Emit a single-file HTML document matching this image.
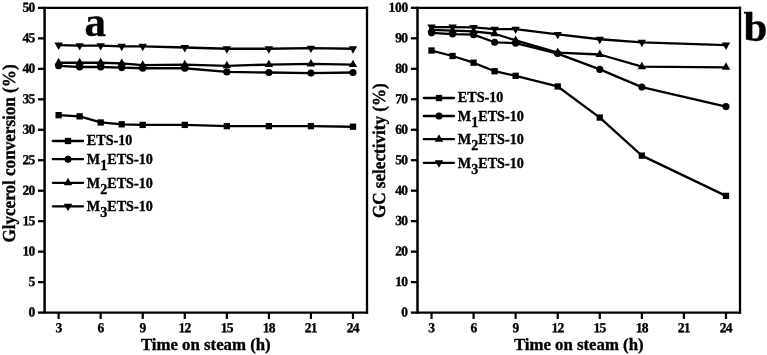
<!DOCTYPE html>
<html><head><meta charset="utf-8"><title>Figure</title>
<style>html,body{margin:0;padding:0;background:#fff}svg{display:block}</style>
</head><body>
<svg width="767" height="355" viewBox="0 0 767 355">
<style>
text{font-family:"Liberation Serif","Times New Roman",serif;font-weight:bold;fill:#000;stroke:#000;stroke-width:0.35px}
.tk{text-rendering:geometricPrecision;font-size:13.8px;letter-spacing:-0.8px}
.ti{font-size:16.8px}
.yt{font-size:17.1px;text-rendering:geometricPrecision}
.lg{font-size:14.15px}
.big{font-size:43px}
</style>
<rect width="767" height="355" fill="#fff"/>
<line x1="44.60" x2="44.60" y1="6.80" y2="313.75" stroke="#000" stroke-width="2.5"/>
<line x1="367.00" x2="367.00" y1="6.80" y2="313.75" stroke="#000" stroke-width="2.3"/>
<line x1="44.60" x2="368.07" y1="7.90" y2="7.90" stroke="#000" stroke-width="2.2"/>
<line x1="44.60" x2="368.07" y1="312.60" y2="312.60" stroke="#000" stroke-width="2.3"/>
<line x1="38.00" x2="44.60" y1="312.60" y2="312.60" stroke="#000" stroke-width="2.3"/>
<text transform="translate(34.40,316.55) rotate(0.05) scale(0.98,1)" text-anchor="end" class="tk">0</text>
<line x1="38.00" x2="44.60" y1="282.13" y2="282.13" stroke="#000" stroke-width="2.3"/>
<text transform="translate(34.40,286.08) rotate(0.05) scale(0.98,1)" text-anchor="end" class="tk">5</text>
<line x1="38.00" x2="44.60" y1="251.66" y2="251.66" stroke="#000" stroke-width="2.3"/>
<text transform="translate(34.40,255.61) rotate(0.05) scale(0.98,1)" text-anchor="end" class="tk">10</text>
<line x1="38.00" x2="44.60" y1="221.19" y2="221.19" stroke="#000" stroke-width="2.3"/>
<text transform="translate(34.40,225.14) rotate(0.05) scale(0.98,1)" text-anchor="end" class="tk">15</text>
<line x1="38.00" x2="44.60" y1="190.72" y2="190.72" stroke="#000" stroke-width="2.3"/>
<text transform="translate(34.40,194.67) rotate(0.05) scale(0.98,1)" text-anchor="end" class="tk">20</text>
<line x1="38.00" x2="44.60" y1="160.25" y2="160.25" stroke="#000" stroke-width="2.3"/>
<text transform="translate(34.40,164.20) rotate(0.05) scale(0.98,1)" text-anchor="end" class="tk">25</text>
<line x1="38.00" x2="44.60" y1="129.78" y2="129.78" stroke="#000" stroke-width="2.3"/>
<text transform="translate(34.40,133.73) rotate(0.05) scale(0.98,1)" text-anchor="end" class="tk">30</text>
<line x1="38.00" x2="44.60" y1="99.31" y2="99.31" stroke="#000" stroke-width="2.3"/>
<text transform="translate(34.40,103.26) rotate(0.05) scale(0.98,1)" text-anchor="end" class="tk">35</text>
<line x1="38.00" x2="44.60" y1="68.84" y2="68.84" stroke="#000" stroke-width="2.3"/>
<text transform="translate(34.40,72.79) rotate(0.05) scale(0.98,1)" text-anchor="end" class="tk">40</text>
<line x1="38.00" x2="44.60" y1="38.37" y2="38.37" stroke="#000" stroke-width="2.3"/>
<text transform="translate(34.40,42.32) rotate(0.05) scale(0.98,1)" text-anchor="end" class="tk">45</text>
<line x1="38.00" x2="44.60" y1="7.90" y2="7.90" stroke="#000" stroke-width="2.3"/>
<text transform="translate(34.40,11.85) rotate(0.05) scale(0.98,1)" text-anchor="end" class="tk">50</text>
<line x1="58.62" x2="58.62" y1="312.60" y2="319.00" stroke="#000" stroke-width="2.2"/>
<text transform="translate(58.42,332.15) rotate(0.05) scale(0.98,1)" text-anchor="middle" class="tk">3</text>
<line x1="100.67" x2="100.67" y1="312.60" y2="319.00" stroke="#000" stroke-width="2.2"/>
<text transform="translate(100.47,332.15) rotate(0.05) scale(0.98,1)" text-anchor="middle" class="tk">6</text>
<line x1="142.72" x2="142.72" y1="312.60" y2="319.00" stroke="#000" stroke-width="2.2"/>
<text transform="translate(142.52,332.15) rotate(0.05) scale(0.98,1)" text-anchor="middle" class="tk">9</text>
<line x1="184.77" x2="184.77" y1="312.60" y2="319.00" stroke="#000" stroke-width="2.2"/>
<text transform="translate(184.57,332.15) rotate(0.05) scale(0.98,1)" text-anchor="middle" class="tk">12</text>
<line x1="226.83" x2="226.83" y1="312.60" y2="319.00" stroke="#000" stroke-width="2.2"/>
<text transform="translate(226.63,332.15) rotate(0.05) scale(0.98,1)" text-anchor="middle" class="tk">15</text>
<line x1="268.88" x2="268.88" y1="312.60" y2="319.00" stroke="#000" stroke-width="2.2"/>
<text transform="translate(268.68,332.15) rotate(0.05) scale(0.98,1)" text-anchor="middle" class="tk">18</text>
<line x1="310.93" x2="310.93" y1="312.60" y2="319.00" stroke="#000" stroke-width="2.2"/>
<text transform="translate(310.73,332.15) rotate(0.05) scale(0.98,1)" text-anchor="middle" class="tk">21</text>
<line x1="352.98" x2="352.98" y1="312.60" y2="319.00" stroke="#000" stroke-width="2.2"/>
<text transform="translate(352.78,332.15) rotate(0.05) scale(0.98,1)" text-anchor="middle" class="tk">24</text>
<text x="205.80" y="349.60" text-anchor="middle" class="ti">Time on steam (h)</text>
<text transform="translate(14.90,153.50) rotate(-90) scale(1,1.07)" text-anchor="middle" class="yt">Glycerol conversion (%)</text>
<polyline points="58.62,115.15 79.64,116.37 100.67,122.47 121.70,124.30 142.72,124.90 184.77,124.90 226.83,126.12 268.88,126.12 310.93,126.12 352.98,126.73" fill="none" stroke="#000" stroke-width="2.3" stroke-linejoin="round"/>
<rect x="55.47" y="112.00" width="6.30" height="6.30"/>
<rect x="76.49" y="113.22" width="6.30" height="6.30"/>
<rect x="97.52" y="119.32" width="6.30" height="6.30"/>
<rect x="118.55" y="121.15" width="6.30" height="6.30"/>
<rect x="139.57" y="121.75" width="6.30" height="6.30"/>
<rect x="181.62" y="121.75" width="6.30" height="6.30"/>
<rect x="223.68" y="122.97" width="6.30" height="6.30"/>
<rect x="265.73" y="122.97" width="6.30" height="6.30"/>
<rect x="307.78" y="122.97" width="6.30" height="6.30"/>
<rect x="349.83" y="123.58" width="6.30" height="6.30"/>
<polyline points="58.62,65.79 79.64,67.01 100.67,67.01 121.70,67.62 142.72,68.23 184.77,68.23 226.83,71.89 268.88,72.50 310.93,73.11 352.98,72.50" fill="none" stroke="#000" stroke-width="2.3" stroke-linejoin="round"/>
<circle cx="58.62" cy="65.79" r="3.55"/>
<circle cx="79.64" cy="67.01" r="3.55"/>
<circle cx="100.67" cy="67.01" r="3.55"/>
<circle cx="121.70" cy="67.62" r="3.55"/>
<circle cx="142.72" cy="68.23" r="3.55"/>
<circle cx="184.77" cy="68.23" r="3.55"/>
<circle cx="226.83" cy="71.89" r="3.55"/>
<circle cx="268.88" cy="72.50" r="3.55"/>
<circle cx="310.93" cy="73.11" r="3.55"/>
<circle cx="352.98" cy="72.50" r="3.55"/>
<polyline points="58.62,62.75 79.64,62.75 100.67,62.75 121.70,63.36 142.72,65.18 184.77,64.57 226.83,65.79 268.88,64.57 310.93,63.96 352.98,64.57" fill="none" stroke="#000" stroke-width="2.3" stroke-linejoin="round"/>
<polygon points="54.42,65.21 62.82,65.21 58.62,57.81"/>
<polygon points="75.44,65.21 83.84,65.21 79.64,57.81"/>
<polygon points="96.47,65.21 104.87,65.21 100.67,57.81"/>
<polygon points="117.50,65.82 125.90,65.82 121.70,58.42"/>
<polygon points="138.52,67.65 146.92,67.65 142.72,60.25"/>
<polygon points="180.57,67.04 188.97,67.04 184.77,59.64"/>
<polygon points="222.63,68.26 231.03,68.26 226.83,60.86"/>
<polygon points="264.68,67.04 273.08,67.04 268.88,59.64"/>
<polygon points="306.73,66.43 315.13,66.43 310.93,59.03"/>
<polygon points="348.78,67.04 357.18,67.04 352.98,59.64"/>
<polyline points="58.62,45.07 79.64,45.68 100.67,45.68 121.70,46.29 142.72,46.29 184.77,47.51 226.83,48.73 268.88,48.73 310.93,48.12 352.98,48.73" fill="none" stroke="#000" stroke-width="2.3" stroke-linejoin="round"/>
<polygon points="54.42,42.61 62.82,42.61 58.62,50.01"/>
<polygon points="75.44,43.22 83.84,43.22 79.64,50.62"/>
<polygon points="96.47,43.22 104.87,43.22 100.67,50.62"/>
<polygon points="117.50,43.83 125.90,43.83 121.70,51.23"/>
<polygon points="138.52,43.83 146.92,43.83 142.72,51.23"/>
<polygon points="180.57,45.04 188.97,45.04 184.77,52.44"/>
<polygon points="222.63,46.26 231.03,46.26 226.83,53.66"/>
<polygon points="264.68,46.26 273.08,46.26 268.88,53.66"/>
<polygon points="306.73,45.65 315.13,45.65 310.93,53.05"/>
<polygon points="348.78,46.26 357.18,46.26 352.98,53.66"/>
<line x1="52.80" x2="83.00" y1="141.00" y2="141.00" stroke="#000" stroke-width="2.3" stroke-linecap="round"/>
<rect x="64.85" y="137.85" width="6.30" height="6.30"/>
<text x="86.80" y="145.40" class="lg">ETS-10</text>
<line x1="52.80" x2="83.00" y1="159.20" y2="159.20" stroke="#000" stroke-width="2.3" stroke-linecap="round"/>
<circle cx="68.00" cy="159.20" r="3.55"/>
<text x="86.80" y="164.20" class="lg">M<tspan dy="5.8">1</tspan><tspan dy="-5.8">ETS-10</tspan></text>
<line x1="52.80" x2="83.00" y1="182.80" y2="182.80" stroke="#000" stroke-width="2.3" stroke-linecap="round"/>
<polygon points="63.80,185.27 72.20,185.27 68.00,177.87"/>
<text x="86.80" y="187.80" class="lg">M<tspan dy="5.8">2</tspan><tspan dy="-5.8">ETS-10</tspan></text>
<line x1="52.80" x2="83.00" y1="206.30" y2="206.30" stroke="#000" stroke-width="2.3" stroke-linecap="round"/>
<polygon points="63.80,203.83 72.20,203.83 68.00,211.23"/>
<text x="86.80" y="211.30" class="lg">M<tspan dy="5.8">3</tspan><tspan dy="-5.8">ETS-10</tspan></text>
<text x="84.5" y="35.9" class="big">a</text>
<line x1="417.50" x2="417.50" y1="6.75" y2="313.75" stroke="#000" stroke-width="2.5"/>
<line x1="740.00" x2="740.00" y1="6.75" y2="313.75" stroke="#000" stroke-width="2.3"/>
<line x1="417.50" x2="741.07" y1="7.85" y2="7.85" stroke="#000" stroke-width="2.2"/>
<line x1="417.50" x2="741.07" y1="312.60" y2="312.60" stroke="#000" stroke-width="2.3"/>
<line x1="410.90" x2="417.50" y1="312.60" y2="312.60" stroke="#000" stroke-width="2.3"/>
<text transform="translate(407.30,316.55) rotate(0.05) scale(0.98,1)" text-anchor="end" class="tk">0</text>
<line x1="410.90" x2="417.50" y1="282.12" y2="282.12" stroke="#000" stroke-width="2.3"/>
<text transform="translate(407.30,286.07) rotate(0.05) scale(0.98,1)" text-anchor="end" class="tk">10</text>
<line x1="410.90" x2="417.50" y1="251.65" y2="251.65" stroke="#000" stroke-width="2.3"/>
<text transform="translate(407.30,255.60) rotate(0.05) scale(0.98,1)" text-anchor="end" class="tk">20</text>
<line x1="410.90" x2="417.50" y1="221.18" y2="221.18" stroke="#000" stroke-width="2.3"/>
<text transform="translate(407.30,225.12) rotate(0.05) scale(0.98,1)" text-anchor="end" class="tk">30</text>
<line x1="410.90" x2="417.50" y1="190.70" y2="190.70" stroke="#000" stroke-width="2.3"/>
<text transform="translate(407.30,194.65) rotate(0.05) scale(0.98,1)" text-anchor="end" class="tk">40</text>
<line x1="410.90" x2="417.50" y1="160.23" y2="160.23" stroke="#000" stroke-width="2.3"/>
<text transform="translate(407.30,164.18) rotate(0.05) scale(0.98,1)" text-anchor="end" class="tk">50</text>
<line x1="410.90" x2="417.50" y1="129.75" y2="129.75" stroke="#000" stroke-width="2.3"/>
<text transform="translate(407.30,133.70) rotate(0.05) scale(0.98,1)" text-anchor="end" class="tk">60</text>
<line x1="410.90" x2="417.50" y1="99.28" y2="99.28" stroke="#000" stroke-width="2.3"/>
<text transform="translate(407.30,103.23) rotate(0.05) scale(0.98,1)" text-anchor="end" class="tk">70</text>
<line x1="410.90" x2="417.50" y1="68.80" y2="68.80" stroke="#000" stroke-width="2.3"/>
<text transform="translate(407.30,72.75) rotate(0.05) scale(0.98,1)" text-anchor="end" class="tk">80</text>
<line x1="410.90" x2="417.50" y1="38.33" y2="38.33" stroke="#000" stroke-width="2.3"/>
<text transform="translate(407.30,42.28) rotate(0.05) scale(0.98,1)" text-anchor="end" class="tk">90</text>
<line x1="410.90" x2="417.50" y1="7.85" y2="7.85" stroke="#000" stroke-width="2.3"/>
<text transform="translate(407.85,11.80) rotate(0.05) scale(0.98,1)" text-anchor="end" class="tk" style="letter-spacing:-0.35px">100</text>
<line x1="431.52" x2="431.52" y1="312.60" y2="319.00" stroke="#000" stroke-width="2.2"/>
<text transform="translate(431.32,332.15) rotate(0.05) scale(0.98,1)" text-anchor="middle" class="tk">3</text>
<line x1="473.59" x2="473.59" y1="312.60" y2="319.00" stroke="#000" stroke-width="2.2"/>
<text transform="translate(473.39,332.15) rotate(0.05) scale(0.98,1)" text-anchor="middle" class="tk">6</text>
<line x1="515.65" x2="515.65" y1="312.60" y2="319.00" stroke="#000" stroke-width="2.2"/>
<text transform="translate(515.45,332.15) rotate(0.05) scale(0.98,1)" text-anchor="middle" class="tk">9</text>
<line x1="557.72" x2="557.72" y1="312.60" y2="319.00" stroke="#000" stroke-width="2.2"/>
<text transform="translate(557.52,332.15) rotate(0.05) scale(0.98,1)" text-anchor="middle" class="tk">12</text>
<line x1="599.78" x2="599.78" y1="312.60" y2="319.00" stroke="#000" stroke-width="2.2"/>
<text transform="translate(599.58,332.15) rotate(0.05) scale(0.98,1)" text-anchor="middle" class="tk">15</text>
<line x1="641.85" x2="641.85" y1="312.60" y2="319.00" stroke="#000" stroke-width="2.2"/>
<text transform="translate(641.65,332.15) rotate(0.05) scale(0.98,1)" text-anchor="middle" class="tk">18</text>
<line x1="683.91" x2="683.91" y1="312.60" y2="319.00" stroke="#000" stroke-width="2.2"/>
<text transform="translate(683.71,332.15) rotate(0.05) scale(0.98,1)" text-anchor="middle" class="tk">21</text>
<line x1="725.98" x2="725.98" y1="312.60" y2="319.00" stroke="#000" stroke-width="2.2"/>
<text transform="translate(725.78,332.15) rotate(0.05) scale(0.98,1)" text-anchor="middle" class="tk">24</text>
<text x="578.75" y="349.60" text-anchor="middle" class="ti">Time on steam (h)</text>
<text transform="translate(385.20,150.70) rotate(-90) scale(1,1.07)" text-anchor="middle" class="yt">GC selectivity (%)</text>
<polyline points="431.52,50.52 452.55,56.00 473.59,62.71 494.62,71.24 515.65,75.81 557.72,86.48 599.78,117.56 641.85,155.65 725.98,195.88" fill="none" stroke="#000" stroke-width="2.3" stroke-linejoin="round"/>
<rect x="428.37" y="47.37" width="6.30" height="6.30"/>
<rect x="449.40" y="52.85" width="6.30" height="6.30"/>
<rect x="470.44" y="59.56" width="6.30" height="6.30"/>
<rect x="491.47" y="68.09" width="6.30" height="6.30"/>
<rect x="512.50" y="72.66" width="6.30" height="6.30"/>
<rect x="554.57" y="83.33" width="6.30" height="6.30"/>
<rect x="596.63" y="114.41" width="6.30" height="6.30"/>
<rect x="638.70" y="152.50" width="6.30" height="6.30"/>
<rect x="722.83" y="192.73" width="6.30" height="6.30"/>
<polyline points="431.52,32.84 452.55,34.06 473.59,34.67 494.62,42.29 515.65,43.20 557.72,53.56 599.78,69.41 641.85,87.09 725.98,106.59" fill="none" stroke="#000" stroke-width="2.3" stroke-linejoin="round"/>
<circle cx="431.52" cy="32.84" r="3.55"/>
<circle cx="452.55" cy="34.06" r="3.55"/>
<circle cx="473.59" cy="34.67" r="3.55"/>
<circle cx="494.62" cy="42.29" r="3.55"/>
<circle cx="515.65" cy="43.20" r="3.55"/>
<circle cx="557.72" cy="53.56" r="3.55"/>
<circle cx="599.78" cy="69.41" r="3.55"/>
<circle cx="641.85" cy="87.09" r="3.55"/>
<circle cx="725.98" cy="106.59" r="3.55"/>
<polyline points="431.52,29.79 452.55,30.71 473.59,31.32 494.62,33.75 515.65,40.46 557.72,52.65 599.78,54.48 641.85,66.67 725.98,67.28" fill="none" stroke="#000" stroke-width="2.3" stroke-linejoin="round"/>
<polygon points="427.32,32.26 435.72,32.26 431.52,24.86"/>
<polygon points="448.35,33.17 456.75,33.17 452.55,25.77"/>
<polygon points="469.39,33.78 477.79,33.78 473.59,26.38"/>
<polygon points="490.42,36.22 498.82,36.22 494.62,28.82"/>
<polygon points="511.45,42.92 519.85,42.92 515.65,35.52"/>
<polygon points="553.52,55.11 561.92,55.11 557.72,47.71"/>
<polygon points="595.58,56.94 603.98,56.94 599.78,49.54"/>
<polygon points="637.65,69.13 646.05,69.13 641.85,61.73"/>
<polygon points="721.78,69.74 730.18,69.74 725.98,62.34"/>
<polyline points="431.52,27.05 452.55,27.05 473.59,27.35 494.62,29.18 515.65,29.18 557.72,34.36 599.78,39.24 641.85,42.29 725.98,45.03" fill="none" stroke="#000" stroke-width="2.3" stroke-linejoin="round"/>
<polygon points="427.32,24.58 435.72,24.58 431.52,31.98"/>
<polygon points="448.35,24.58 456.75,24.58 452.55,31.98"/>
<polygon points="469.39,24.89 477.79,24.89 473.59,32.29"/>
<polygon points="490.42,26.72 498.82,26.72 494.62,34.12"/>
<polygon points="511.45,26.72 519.85,26.72 515.65,34.12"/>
<polygon points="553.52,31.90 561.92,31.90 557.72,39.30"/>
<polygon points="595.58,36.77 603.98,36.77 599.78,44.17"/>
<polygon points="637.65,39.82 646.05,39.82 641.85,47.22"/>
<polygon points="721.78,42.56 730.18,42.56 725.98,49.96"/>
<line x1="423.80" x2="454.00" y1="98.00" y2="98.00" stroke="#000" stroke-width="2.3" stroke-linecap="round"/>
<rect x="435.85" y="94.85" width="6.30" height="6.30"/>
<text x="457.80" y="102.40" class="lg">ETS-10</text>
<line x1="423.80" x2="454.00" y1="116.00" y2="116.00" stroke="#000" stroke-width="2.3" stroke-linecap="round"/>
<circle cx="439.00" cy="116.00" r="3.55"/>
<text x="457.80" y="121.00" class="lg">M<tspan dy="5.8">1</tspan><tspan dy="-5.8">ETS-10</tspan></text>
<line x1="423.80" x2="454.00" y1="139.20" y2="139.20" stroke="#000" stroke-width="2.3" stroke-linecap="round"/>
<polygon points="434.80,141.67 443.20,141.67 439.00,134.27"/>
<text x="457.80" y="144.20" class="lg">M<tspan dy="5.8">2</tspan><tspan dy="-5.8">ETS-10</tspan></text>
<line x1="423.80" x2="454.00" y1="162.80" y2="162.80" stroke="#000" stroke-width="2.3" stroke-linecap="round"/>
<polygon points="434.80,160.33 443.20,160.33 439.00,167.73"/>
<text x="457.80" y="167.80" class="lg">M<tspan dy="5.8">3</tspan><tspan dy="-5.8">ETS-10</tspan></text>
<text x="743.5" y="41.2" class="big">b</text>
</svg>
</body></html>
